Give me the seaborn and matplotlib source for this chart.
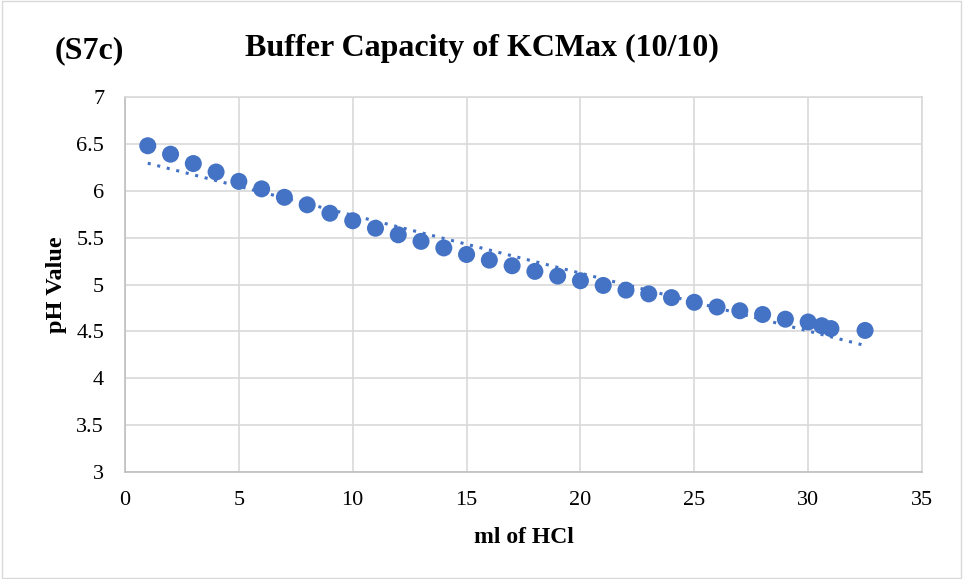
import numpy as np
import pandas as pd
import matplotlib
matplotlib.use("Agg")
import matplotlib.pyplot as plt
import seaborn as sns

# Readings
ml_hcl = [1, 2, 3, 4, 5, 6, 7, 8, 9, 10, 11, 12, 13, 14, 15, 16, 17, 18, 19, 20,
          21, 22, 23, 24, 25, 26, 27, 28, 29, 30, 30.6, 31, 32.5]
ph_value = [6.48, 6.39, 6.29, 6.20, 6.10, 6.02, 5.93, 5.85, 5.76, 5.68, 5.60, 5.53,
            5.46, 5.39, 5.32, 5.26, 5.20, 5.14, 5.09, 5.04, 4.99, 4.94, 4.90, 4.86,
            4.81, 4.76, 4.72, 4.68, 4.63, 4.60, 4.56, 4.53, 4.51]

df = pd.DataFrame({'ml of HCl': ml_hcl, 'pH Value': ph_value})

sns.set_style('white')
plt.rcParams['font.family'] = ['Liberation Serif', 'DejaVu Serif']
plt.rcParams['text.color'] = 'black'
plt.rcParams['axes.labelcolor'] = 'black'
plt.rcParams['xtick.color'] = 'black'
plt.rcParams['ytick.color'] = 'black'

blue = '#4472C4'
fig = plt.figure(figsize=(9.63, 5.79), dpi=100)
ax = fig.add_axes([125 / 963, 1 - 472 / 579, 797 / 963, 375 / 579])

sns.scatterplot(data=df, x='ml of HCl', y='pH Value', ax=ax, color=blue,
                s=150, edgecolor='none', zorder=3)

# linear trendline (dotted)
coef = np.polyfit(df['ml of HCl'], df['pH Value'], 1)
xs = np.array([min(ml_hcl), max(ml_hcl)])
ax.plot(xs, np.polyval(coef, xs), color=blue, linestyle=(0, (1, 2.2)),
        linewidth=2.2, zorder=2)

ax.set_xlim(0, 35)
ax.set_ylim(3, 7)
ax.set_xticks(np.arange(0, 36, 5))
ax.set_yticks(np.arange(3, 7.01, 0.5))
ax.set_yticklabels(['3', '3.5', '4', '4.5', '5', '5.5', '6', '6.5', '7'])
ax.grid(True, color='#d9d9d9', linewidth=1.2)
ax.set_axisbelow(True)
for side in ['top', 'right']:
    ax.spines[side].set_color('#d9d9d9')
for side in ['left', 'bottom']:
    ax.spines[side].set_color('#bfbfbf')
for sp in ax.spines.values():
    sp.set_linewidth(1.2)
ax.tick_params(axis='both', labelsize=16, length=0)
ax.tick_params(axis='x', pad=14)
ax.tick_params(axis='y', pad=15)

ax.set_xlabel('ml of HCl', fontsize=17, fontweight='bold', labelpad=12)
ax.set_ylabel('pH Value', fontsize=17.5, fontweight='bold', labelpad=7)

fig.text(0.5, 1 - 48 / 579, 'Buffer Capacity of KCMax (10/10)', ha='center',
         va='center', fontsize=23, fontweight='bold')
fig.text(55 / 963, 1 - 51 / 579, '(S7c)', ha='left', va='center',
         fontsize=23, fontweight='bold')

# light frame around the chart
fig.patches.append(plt.Rectangle((0.002, 0.002), 0.996, 0.996, transform=fig.transFigure,
                                 fill=False, edgecolor='#d9d9d9', linewidth=1))

fig.savefig('out.png', dpi=100)
